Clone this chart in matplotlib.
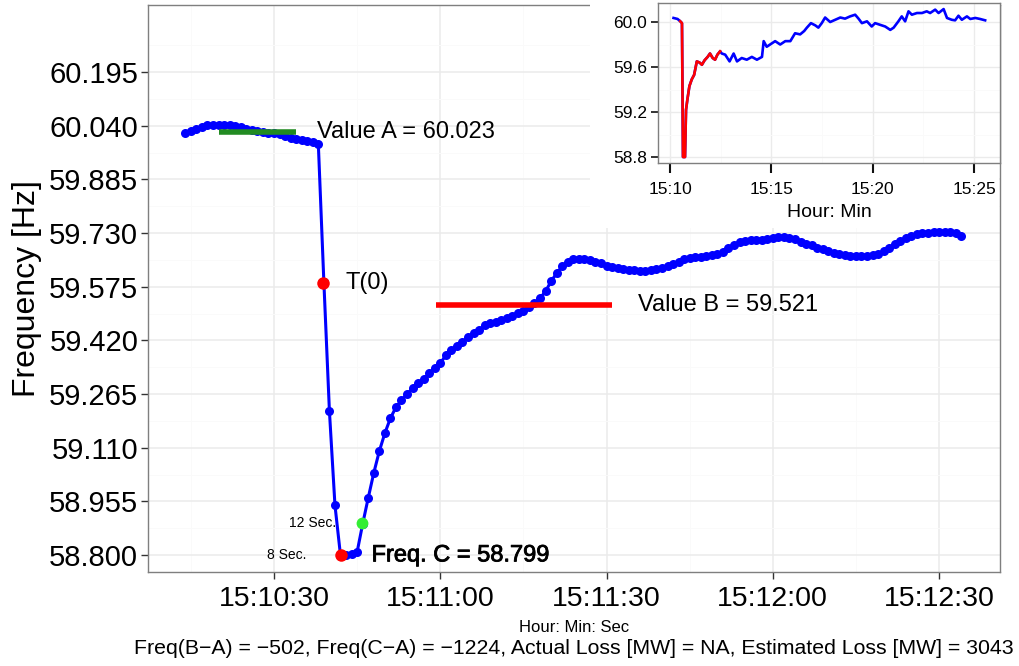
import matplotlib
matplotlib.use("Agg")
import matplotlib.pyplot as plt
import matplotlib.patheffects as pe
from matplotlib.patches import Rectangle
import numpy as np

plt.rcParams['font.family'] = ['Liberation Sans', 'DejaVu Sans']

# ---------------- data: main panel (seconds after 15:10:00) ----------------
t_main = list(range(14, 155))
freq_main = [
    60.019, 60.025, 60.031, 60.037, 60.041, 60.043, 60.043, 60.043, 60.042, 60.040,
    60.036, 60.031, 60.027, 60.024, 60.022, 60.020, 60.018, 60.015, 60.010, 60.006,
    60.002, 59.999, 59.996, 59.992, 59.987, 59.588, 59.216, 58.944, 58.799, 58.800,
    58.803, 58.809, 58.890, 58.965, 59.037, 59.100, 59.152, 59.195, 59.227, 59.247,
    59.265, 59.282, 59.296, 59.308, 59.325, 59.340, 59.354, 59.377, 59.392, 59.403,
    59.415, 59.429, 59.441, 59.449, 59.464, 59.470, 59.472, 59.478, 59.484, 59.490,
    59.498, 59.504, 59.516, 59.527, 59.542, 59.562, 59.591, 59.614, 59.634, 59.646,
    59.654, 59.655, 59.654, 59.651, 59.646, 59.643, 59.636, 59.631, 59.628, 59.625,
    59.624, 59.623, 59.622, 59.622, 59.623, 59.625, 59.628, 59.634, 59.640, 59.648,
    59.656, 59.659, 59.660, 59.662, 59.664, 59.667, 59.670, 59.675, 59.688, 59.696,
    59.703, 59.708, 59.709, 59.710, 59.711, 59.713, 59.715, 59.718, 59.718, 59.717,
    59.714, 59.705, 59.700, 59.696, 59.688, 59.683, 59.678, 59.673, 59.670, 59.667,
    59.665, 59.664, 59.663, 59.664, 59.666, 59.670, 59.677, 59.688, 59.700, 59.708,
    59.716, 59.723, 59.727, 59.730, 59.731, 59.732, 59.733, 59.734, 59.733, 59.730,
    59.721,
]

y_ticks = [58.800, 58.955, 59.110, 59.265, 59.420, 59.575, 59.730, 59.885, 60.040, 60.195]
x_ticks = [30, 60, 90, 120, 150]
x_tick_labels = ["15:10:30", "15:11:00", "15:11:30", "15:12:00", "15:12:30"]

value_a = 60.023
value_a_span = [20, 34]
value_b = 59.521
value_b_span = [59.2, 91]
t0_point = [38.8, 59.585]
c_point = [42, 58.799]
sec12_point = [45.9, 58.892]

caption = ("Freq(B\u2212A) = \u2212502, Freq(C\u2212A) = \u22121224, "
           "Actual Loss [MW] = NA, Estimated Loss [MW] = 3043")

# ---------------- data: inset (seconds after 15:10:00) ----------------
t_inset = [10, 22, 30, 35, 38, 44, 47, 51, 57, 64, 71, 79, 87, 94, 102, 111, 118, 126,
           133, 140, 148, 153, 163, 176, 188, 198, 212, 227, 242, 257, 272, 277, 286,
           301, 311, 326, 341, 356, 370, 385, 397, 405, 417, 430, 439, 449, 459, 474,
           489, 504, 518, 533, 548, 558, 568, 583, 597, 607, 622, 637, 652, 662, 676,
           686, 696, 706, 716, 731, 746, 760, 770, 785, 795, 810, 820, 834, 844, 854,
           864, 879, 889, 904, 918, 933]
freq_inset = [60.036, 60.027, 60.006, 59.99, 58.80, 58.80, 59.22, 59.31, 59.43, 59.49,
              59.53, 59.65, 59.64, 59.62, 59.66, 59.69, 59.72, 59.68, 59.665, 59.71,
              59.74, 59.72, 59.71, 59.65, 59.72, 59.65, 59.68, 59.665, 59.69, 59.665,
              59.69, 59.83, 59.78, 59.81, 59.83, 59.80, 59.83, 59.83, 59.90, 59.89,
              59.92, 59.95, 59.99, 59.97, 59.95, 59.99, 60.04, 60.00, 60.02, 60.04,
              60.03, 60.05, 60.065, 60.03, 59.99, 60.006, 59.96, 59.99, 59.975, 59.96,
              59.93, 59.95, 60.006, 60.05, 60.006, 60.095, 60.065, 60.08, 60.08, 60.095,
              60.08, 60.11, 60.08, 60.115, 60.036, 60.02, 60.015, 60.056, 60.02, 60.05,
              60.027, 60.036, 60.027, 60.015]
inset_event_window = [30, 148]
inset_y_ticks = [58.8, 59.2, 59.6, 60.0]
inset_x_ticks = [0, 300, 600, 900]
inset_x_tick_labels = ["15:10", "15:15", "15:20", "15:25"]

# ---------------- figure ----------------
fig = plt.figure(figsize=(10.19, 6.66), dpi=100)
ax = fig.add_axes([0.1452, 0.1411, 0.8362, 0.8514])

major_grid = "#EBEBEB"
minor_grid = "#FAFAFA"

ax.set_yticks(y_ticks)
ax.set_yticklabels([f"{v:.3f}" for v in y_ticks])
ax.set_yticks([(a + b) / 2 for a, b in zip(y_ticks[:-1], y_ticks[1:])] + [60.2725], minor=True)
ax.set_xticks(x_ticks)
ax.set_xticklabels(x_tick_labels)
ax.set_xticks([15, 45, 75, 105, 135], minor=True)
ax.set_xlim(7.26, 161.0)
ax.set_ylim(58.751, 60.389)
ax.grid(True, which='major', color=major_grid, linewidth=1.1, zorder=0)
ax.grid(True, which='minor', color=minor_grid, linewidth=0.6, zorder=0)
ax.set_axisbelow(True)
ax.tick_params(axis='y', which='major', labelsize=21, length=5, width=1.0,
               color='#333333', labelcolor='black', pad=2)
ax.tick_params(axis='x', which='major', labelsize=20.5, length=5, width=1.0,
               color='#333333', labelcolor='black', pad=5)
ax.tick_params(axis='both', which='minor', length=0)
for s in ax.spines.values():
    s.set_color('#7F7F7F')
    s.set_linewidth(1.0)

ax.set_ylabel("Frequency [Hz]", fontsize=23, labelpad=5)
ax.set_xlabel("Hour: Min: Sec", fontsize=12, labelpad=6)

# main series
ax.plot(t_main, freq_main, color='blue', linewidth=2.2, marker='o', markersize=6.5,
        markeredgewidth=0, zorder=3)

# Value A
ax.plot(value_a_span, [value_a, value_a], color='#228B22', linewidth=4.0,
        solid_capstyle='butt', zorder=4)
ax.text(37.8, value_a, f"Value A = {value_a:.3f}", fontsize=17, va='center', ha='left')

# Value B
ax.plot(value_b_span, [value_b, value_b], color='red', linewidth=4.0,
        solid_capstyle='butt', zorder=4)
ax.text(95.6, value_b, f"Value B = {value_b:.3f}", fontsize=17, va='center', ha='left')

# T(0)
ax.plot([t0_point[0]], [t0_point[1]], 'o', color='red', markersize=9,
        markeredgewidth=0, zorder=5)
ax.text(42.9, t0_point[1], "T(0)", fontsize=17, va='center', ha='left')

# C point and labels
ax.plot([c_point[0]], [c_point[1]], 'o', color='red', markersize=9,
        markeredgewidth=0, zorder=5)
ax.text(47.6, c_point[1], f"Freq. C = {c_point[1]:.3f}", fontsize=17, va='center',
        ha='left', path_effects=[pe.withStroke(linewidth=0.6, foreground='black')])
ax.text(c_point[0] - 6.2, c_point[1], "8 Sec.", fontsize=10, va='center', ha='right')

ax.plot([sec12_point[0]], [sec12_point[1]], 'o', color='#33EE33', markersize=8.5,
        markeredgewidth=0, zorder=5)
ax.text(sec12_point[0] - 4.7, sec12_point[1], "12 Sec.", fontsize=10, va='center', ha='right')

fig.text(0.5633, 1 - 649 / 666, caption, fontsize=15.3, ha='center', va='center')

# ---------------- inset ----------------
bg = Rectangle((590 / 1019, 1 - 228 / 666), 409 / 1019, 226 / 666,
               transform=fig.transFigure, facecolor='white', edgecolor='none', zorder=1)
fig.patches.append(bg)

ins = fig.add_axes([658 / 1019, 1 - 163 / 666, 342 / 1019, 160 / 666], zorder=2)
ti = np.array(t_inset)
fi = np.array(freq_inset)
ins.plot(ti, fi, color='blue', linewidth=1.9, zorder=3)
mask = (ti >= inset_event_window[0]) & (ti <= inset_event_window[1])
ins.plot(ti[mask], fi[mask], color='red', linewidth=1.9, zorder=4)
ins.set_yticks(inset_y_ticks)
ins.set_yticklabels([f"{v:.1f}" for v in inset_y_ticks])
ins.set_yticks([59.0, 59.4, 59.8], minor=True)
ins.set_xticks(inset_x_ticks)
ins.set_xticklabels(inset_x_tick_labels)
ins.set_xticks([150, 450, 750], minor=True)
ins.set_xlim(-36, 977)
ins.set_ylim(58.747, 60.169)
ins.grid(True, which='major', color=major_grid, linewidth=1.0)
ins.grid(True, which='minor', color=minor_grid, linewidth=0.6)
ins.set_axisbelow(True)
ins.tick_params(axis='y', which='major', labelsize=12.5, length=5, width=1.2,
                color='#111111', labelcolor='black', pad=3)
ins.tick_params(axis='x', which='major', labelsize=12.5, length=7, width=1.5,
                color='#111111', labelcolor='black', pad=7)
ins.tick_params(axis='both', which='minor', length=0)
for s in ins.spines.values():
    s.set_color('#7F7F7F')
    s.set_linewidth(1.0)
ins.set_xlabel("Hour: Min", fontsize=14, labelpad=5)

fig.savefig("out.png", dpi=100)
